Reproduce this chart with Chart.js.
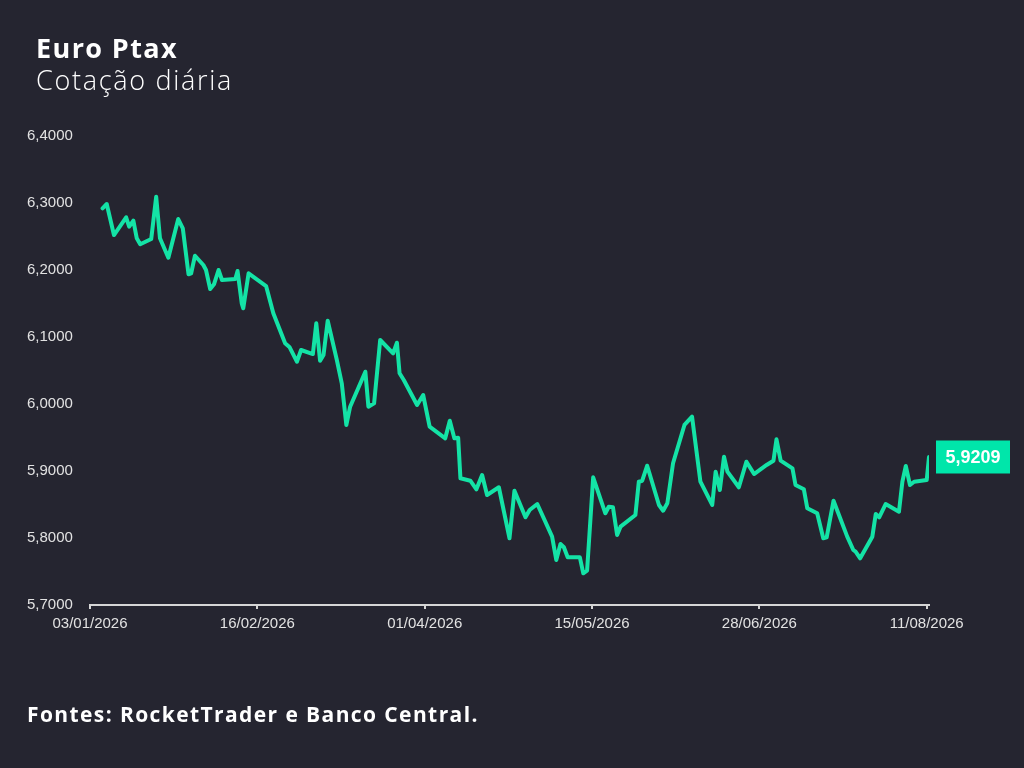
<!DOCTYPE html>
<html>
<head>
<meta charset="utf-8">
<script src="https://cdn.jsdelivr.net/npm/chart.js@4.4.1/dist/chart.umd.min.js"></script>
<style>
  html, body { margin: 0; padding: 0; background: #252530; }
  #wrap { position: relative; width: 1024px; height: 768px; overflow: hidden; }
  #grafico { position: absolute; left: 0; top: 0; }
  .txt { position: absolute; color: #ffffff; font-family: "Open Sans", sans-serif; white-space: nowrap; line-height: 1; }
  #titulo { left: 36px; top: 34px; font-size: 27px; font-weight: 700; letter-spacing: 1.4px; }
  #subtitulo { left: 36px; top: 66px; font-size: 27px; font-weight: 300; letter-spacing: 1.7px; }
  #fonte { left: 27px; top: 704px; font-size: 21px; font-weight: 700; letter-spacing: 1.4px; }
</style>
</head>
<body>
<div id="wrap">
  <canvas id="grafico" width="1024" height="768"></canvas>
  <div class="txt" id="titulo">Euro Ptax</div>
  <div class="txt" id="subtitulo">Cotação diária</div>
  <div class="txt" id="fonte">Fontes: RocketTrader e Banco Central.</div>
</div>
<script>
// dias corridos desde 03/01/2026
var dias = [3.3, 4.4, 6.3, 9.5, 10.3, 11.4, 12.3, 13.2, 16.1, 17.4, 18.4, 20.6, 23.2, 24.4, 25.9, 26.6,
    27.6, 29.8, 30.5, 31.6, 32.6, 33.8, 34.7, 38.2, 38.8, 39.9, 40.3, 41.7, 46.3, 48.2, 51.3, 52.5,
    54.4, 55.5, 58.6, 59.5, 60.5, 61.4, 62.5, 64.9, 66.2, 67.4, 68.4, 72.4, 73.2, 74.7, 76.3, 79.7,
    80.7, 81.4, 82.5, 86.0, 87.6, 89.3, 93.4, 94.6, 95.8, 96.8, 97.4, 100.0, 101.6, 103.1, 104.4, 107.5,
    110.3, 111.6, 114.5, 115.6, 117.6, 121.5, 122.6, 123.7, 124.6, 125.6, 128.8, 129.7, 130.7, 132.3,
    135.5, 136.4, 137.5, 138.6, 139.5, 143.4, 144.3, 145.2, 146.5, 149.6, 150.7, 151.8, 153.3, 156.3,
    158.3, 160.5, 163.6, 164.5, 165.6, 166.7, 167.6, 170.6, 172.6, 174.6, 177.9, 179.7, 180.5, 181.6,
    184.7, 185.5, 187.7, 188.6, 191.2, 192.8, 193.7, 195.5, 199.1, 200.7, 201.3, 202.5, 205.7, 206.6,
    207.5, 209.2, 212.7, 213.6, 214.5, 215.6, 216.7, 220.0, 220.6];
var cotacoes = [6.2921, 6.2985, 6.2522, 6.2787, 6.2646, 6.2736, 6.2473, 6.2384, 6.2463, 6.3094, 6.2473, 6.2184,
    6.2761, 6.2622, 6.1936, 6.1951, 6.2213, 6.2075, 6.2000, 6.1716, 6.1787, 6.2000, 6.1851, 6.1866,
    6.1985, 6.1503, 6.1428, 6.1951, 6.1761, 6.1354, 6.0906, 6.0846, 6.0631, 6.0806, 6.0746, 6.1204,
    6.0646, 6.0731, 6.1243, 6.0657, 6.0309, 5.9687, 5.9960, 6.0482, 5.9960, 6.0010, 6.0955, 6.0757,
    6.0915, 6.0458, 6.0358, 5.9985, 6.0134, 5.9661, 5.9488, 5.9751, 5.9488, 5.9497, 5.8891, 5.8855,
    5.8727, 5.8940, 5.8642, 5.8757, 5.7996, 5.8706, 5.8309, 5.8418, 5.8507, 5.8020, 5.7672, 5.7910,
    5.7861, 5.7712, 5.7712, 5.7473, 5.7512, 5.8906, 5.8369, 5.8467, 5.8458, 5.8045, 5.8169, 5.8343,
    5.8840, 5.8855, 5.9079, 5.8493, 5.8407, 5.8518, 5.9115, 5.9687, 5.9810, 5.8840, 5.8493, 5.8990,
    5.8716, 5.9213, 5.8990, 5.8757, 5.9139, 5.8955, 5.9090, 5.9154, 5.9473, 5.9154, 5.9040, 5.8791,
    5.8727, 5.8443, 5.8369, 5.7996, 5.8010, 5.8557, 5.8020, 5.7821, 5.7796, 5.7697, 5.8020, 5.8358,
    5.8309, 5.8507, 5.8393, 5.8840, 5.9075, 5.8791, 5.8840, 5.8866, 5.9209];
var diasTicks = [0, 44, 88, 132, 176, 220];
var rotulosX = ['03/01/2026', '16/02/2026', '01/04/2026', '15/05/2026', '28/06/2026', '11/08/2026'];

var corLinha = '#14e3a6';
var corEixo = '#d6d6d6';

var pontos = dias.map((d, i) => ({ x: d, y: cotacoes[i] }));

let formatarValor = function (v) {
    return v.toFixed(4).replace('.', ',');
}

// etiqueta com o ultimo valor
var ultimoValor = {
    id: 'ultimoValor',
    afterDatasetsDraw: function (chart) {
        var meta = chart.getDatasetMeta(0);
        var p = meta.data[meta.data.length - 1];
        var ctx = chart.ctx;
        ctx.save();
        ctx.fillStyle = '#00e6aa';
        ctx.fillRect(p.x + 7, p.y - 16.5, 74, 33);
        ctx.fillStyle = '#ffffff';
        ctx.font = 'bold 18px "Liberation Sans", Arial, sans-serif';
        ctx.textAlign = 'center';
        ctx.textBaseline = 'middle';
        ctx.fillText(formatarValor(cotacoes[cotacoes.length - 1]), p.x + 44, p.y + 1);
        ctx.restore();
    }
};

var ctx = document.getElementById('grafico').getContext('2d');
window.grafico = new Chart(ctx, {
    type: 'line',
    data: {
        datasets: [{
            data: pontos,
            borderColor: corLinha,
            borderWidth: 4,
            pointRadius: 0,
            tension: 0,
            fill: false,
            borderJoinStyle: 'round',
            borderCapStyle: 'round'
        }]
    },
    options: {
        responsive: false,
        animation: false,
        events: [],
        layout: { padding: { left: 27, right: 95, top: 136, bottom: 128 } },
        plugins: { legend: { display: false }, tooltip: { enabled: false } },
        scales: {
            x: {
                type: 'linear',
                min: 0,
                max: 220.6,
                afterBuildTicks: function (scale) {
                    scale.ticks = diasTicks.map(v => ({ value: v }));
                },
                afterFit: function (scale) { scale.height = 35; },
                grid: { display: true, drawOnChartArea: false, drawTicks: true, tickLength: 4, color: corEixo, lineWidth: 2 },
                border: { display: true, color: corEixo, width: 2 },
                ticks: {
                    color: '#e2e2e2',
                    font: { family: '"Liberation Sans", Arial, sans-serif', size: 15 },
                    padding: 6,
                    maxRotation: 0,
                    autoSkip: false,
                    callback: function (v) {
                        var i = diasTicks.indexOf(v);
                        return i >= 0 ? rotulosX[i] : '';
                    }
                }
            },
            y: {
                min: 5.7,
                max: 6.4,
                afterFit: function (scale) { scale.width = 63; },
                grid: { display: false },
                border: { display: false },
                ticks: {
                    stepSize: 0.1,
                    crossAlign: 'far',
                    color: '#e2e2e2',
                    font: { family: '"Liberation Sans", Arial, sans-serif', size: 15 },
                    callback: function (v) { return formatarValor(v); }
                }
            }
        }
    },
    plugins: [ultimoValor]
});
</script>
</body>
</html>
